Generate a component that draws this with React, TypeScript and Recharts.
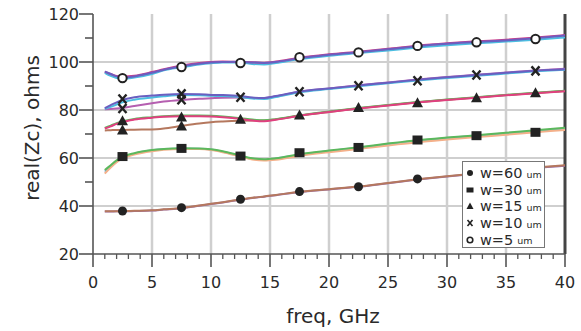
import React from 'react';
import { ComposedChart, Line, Scatter, XAxis, YAxis, ReferenceLine, Legend } from 'recharts';

// frequency points (GHz) for simulated curves
const freq = [1, 1.5, 2, 2.5, 3.5, 5, 6, 7.5, 9, 10, 11, 12.5, 13.5, 14.5, 15.5, 17.5, 20, 22.5, 25, 27.5, 30, 32.5, 35, 37.5, 40];

// w = 5 um curves
const z5a = [96, 95, 94, 93.6, 94, 95.5, 96.8, 98.2, 99.3, 99.8, 100, 100.1, 99.8, 99.6, 100, 101.6, 103, 104.1, 105.3, 106.6, 107.6, 108.3, 109, 109.9, 111];
const z5b = [95.5, 94.2, 93.3, 93, 93.5, 95, 96.5, 97.8, 99, 99.5, 99.8, 99.8, 99.2, 99, 99.6, 101.2, 102.6, 103.7, 104.8, 106, 107, 107.8, 108.5, 109.3, 110.2];
const z5c = [96, 95, 94.2, 94, 94.3, 95.8, 97, 98.5, 99.6, 100, 100.2, 100, 99.9, 99.7, 100.2, 101.8, 103.2, 104.3, 105.5, 106.8, 107.8, 108.6, 109.3, 110.2, 111.2];
// w = 10 um curves
const z10a = [80.8, 82, 83.2, 84.2, 85.3, 86, 86.4, 86.7, 86.6, 86.3, 86.2, 85.8, 85.2, 85, 85.8, 87.7, 89, 90.2, 91.4, 92.6, 93.6, 94.6, 95.5, 96.4, 97];
const z10b = [80.5, 81.3, 82.3, 83.2, 84.3, 85.2, 85.7, 86.2, 86.1, 85.9, 85.8, 85.4, 84.8, 84.6, 85.4, 87.4, 88.7, 89.9, 91.1, 92.3, 93.3, 94.3, 95.2, 96.1, 96.8];
const z10c = [80.3, 80.4, 80.6, 80.9, 81.7, 82.8, 83.5, 84.2, 84.7, 84.9, 85.1, 85.2, 85, 84.9, 85.7, 87.6, 89, 90.3, 91.5, 92.7, 93.7, 94.7, 95.6, 96.5, 97.2];
// w = 15 um curves
const z15a = [72.5, 73.5, 74.5, 75.3, 76.3, 77, 77.4, 77.7, 77.7, 77.6, 77.3, 76.6, 76, 75.7, 76.2, 77.8, 79.4, 80.8, 82.1, 83.3, 84.4, 85.3, 86.3, 87.2, 88];
const z15b = [72.3, 73.2, 74.2, 75, 76, 76.8, 77.2, 77.4, 77.4, 77.3, 77, 76.3, 75.6, 75.3, 75.9, 77.6, 79.2, 80.6, 81.9, 83.1, 84.2, 85.1, 86.1, 87, 87.8];
const z15c = [71.5, 71.6, 71.7, 71.7, 71.8, 71.9, 72.3, 73.4, 74.4, 74.9, 75.2, 75.5, 75.6, 75.6, 76.1, 77.6, 79.2, 80.7, 82, 83.2, 84.3, 85.2, 86.2, 87.1, 87.9];
// w = 30 um curves
const z30a = [55, 57, 59, 60.5, 62, 63.3, 63.8, 64.1, 64, 63.6, 62.8, 61, 59.9, 59.5, 59.9, 61.6, 63.1, 64.5, 66, 67.4, 68.5, 69.5, 70.5, 71.6, 72.6];
const z30b = [53.5, 56, 58.2, 59.8, 61.4, 62.8, 63.4, 63.8, 63.7, 63.3, 62.4, 60.6, 59.4, 59, 59.3, 60.9, 62.4, 63.8, 65.2, 66.6, 67.7, 68.7, 69.7, 70.7, 71.7];
const z30c = [54.3, 56.5, 58.6, 60.2, 61.8, 63.2, 63.7, 64, 63.9, 63.5, 62.6, 60.8, 59.7, 59.3, 59.8, 61.4, 62.9, 64.3, 65.8, 67.2, 68.3, 69.3, 70.3, 71.3, 72.3];
// w = 60 um curves
const z60a = [37.8, 37.8, 37.8, 37.9, 38, 38.2, 38.6, 39.2, 40.2, 40.9, 41.6, 42.7, 43.4, 44, 44.6, 45.9, 47, 48.1, 49.6, 51.1, 52.4, 53.6, 54.8, 56, 57];
const z60b = [37.7, 37.7, 37.8, 37.8, 37.9, 38.1, 38.5, 39.1, 40.1, 40.8, 41.5, 42.6, 43.3, 43.9, 44.5, 45.8, 46.9, 48, 49.5, 51, 52.3, 53.5, 54.7, 55.9, 56.8];

// measured markers
const markerFreq = [2.5, 7.5, 12.5, 17.5, 22.5, 27.5, 32.5, 37.5];
const markerFreqEarly = [2.5, 7.5];
const m60 = [37.9, 39.3, 42.8, 46, 48, 51.3, 53.8, 56];
const m30 = [60.6, 64, 60.8, 62.2, 64.4, 67.5, 69.3, 70.7];
const m15 = [75.5, 77.1, 76.1, 77.9, 81, 83, 85.1, 87.2];
const m15early = [71.7, 73.3];
const m10 = [84.6, 86.7, 85.3, 87.6, 90.1, 92.2, 94.6, 96.3];
const m10early = [80.6, 84.3];
const m5 = [93.3, 97.9, 99.6, 102, 104, 106.7, 108.2, 109.6];

const xTicks = Array.from({ length: 41 }, (_, i) => i);
const yTicks = [20, 30, 40, 50, 60, 70, 80, 90, 100, 110, 120];
const xGrid = [5, 10, 15, 20, 25, 30, 35];
const yGrid = [40, 60, 80, 100];

const legendItems = [
  { w: '60', shape: 'circle' },
  { w: '30', shape: 'square' },
  { w: '15', shape: 'triangle' },
  { w: '10', shape: 'x' },
  { w: '5', shape: 'open' },
];

const curveSeries = [
  { key: 'z60b', vals: z60b, color: '#9a6fb0' },
  { key: 'z60a', vals: z60a, color: '#b5785e' },
  { key: 'z30c', vals: z30c, color: '#8fb8e0' },
  { key: 'z30b', vals: z30b, color: '#f4b08a' },
  { key: 'z30a', vals: z30a, color: '#5cb85c' },
  { key: 'z15c', vals: z15c, color: '#b5785e' },
  { key: 'z15a', vals: z15a, color: '#5cb85c' },
  { key: 'z15b', vals: z15b, color: '#e0407f' },
  { key: 'z10c', vals: z10c, color: '#b55fb0' },
  { key: 'z10b', vals: z10b, color: '#4bbde0' },
  { key: 'z10a', vals: z10a, color: '#6a5fc0' },
  { key: 'z5b', vals: z5b, color: '#4bbde0' },
  { key: 'z5c', vals: z5c, color: '#cc3d8a' },
  { key: 'z5a', vals: z5a, color: '#6a5fc0' },
];

const data = freq.map((f, i) => {
  const row: Record<string, number> = { freq: f };
  curveSeries.forEach((s) => { row[s.key] = s.vals[i]; });
  return row;
});

const toPts = (fs: number[], vs: number[]) => fs.map((f, i) => ({ freq: f, z: vs[i] }));

const INK = '#222';

const MarkCircle = (p: any) => <circle cx={p.cx} cy={p.cy} r={4.5} fill={INK} />;
const MarkSquare = (p: any) => <rect x={p.cx - 5} y={p.cy - 4.5} width={10} height={9} fill={INK} />;
const MarkTri = (p: any) => (
  <polygon points={`${p.cx},${p.cy - 5.5} ${p.cx - 5.5},${p.cy + 4.5} ${p.cx + 5.5},${p.cy + 4.5}`} fill={INK} />
);
const MarkX = (p: any) => (
  <g stroke={INK} strokeWidth={2.4}>
    <line x1={p.cx - 4} y1={p.cy - 4.5} x2={p.cx + 4} y2={p.cy + 4.5} />
    <line x1={p.cx + 4} y1={p.cy - 4.5} x2={p.cx - 4} y2={p.cy + 4.5} />
  </g>
);
const MarkOpen = (p: any) => <circle cx={p.cx} cy={p.cy} r={4.2} fill="#fff" stroke={INK} strokeWidth={2} />;

const FONT = '"DejaVu Sans", sans-serif';
const TXT = '#2a2a2a';

const XTick = (props: any) => {
  const { x, y, payload } = props;
  const v = payload.value;
  const major = v % 5 === 0;
  return (
    <g>
      <line x1={x} x2={x} y1={y} y2={y + (major ? 13 : 5)} stroke="#555" strokeWidth={major ? 1.6 : 1.3} />
      {major && (
        <text x={x} y={y + 34} textAnchor="middle" fontSize={16} fontFamily={FONT} fill={TXT}>
          {v}
        </text>
      )}
    </g>
  );
};

const YTick = (props: any) => {
  const { x, y, payload } = props;
  const v = payload.value;
  const major = v % 20 === 0;
  if (!major && v === 30) return <g />;
  return (
    <g>
      <line x1={x - (major ? 14 : 8)} x2={x} y1={y} y2={y} stroke="#555" strokeWidth={1.6} />
      {major && (
        <text x={x - 14} y={y + 6} textAnchor="end" fontSize={16} fontFamily={FONT} fill={TXT}>
          {v}
        </text>
      )}
    </g>
  );
};

const LegendMark = ({ shape }: { shape: string }) => {
  const c = 5;
  return (
    <svg width={10} height={10} style={{ display: 'block' }}>
      {shape === 'circle' && <circle cx={c} cy={c} r={3} fill={INK} />}
      {shape === 'square' && <rect x={1.5} y={2.5} width={7} height={5} fill={INK} />}
      {shape === 'triangle' && <polygon points="5,1.5 1.5,8 8.5,8" fill={INK} />}
      {shape === 'x' && (
        <g stroke={INK} strokeWidth={1.6}>
          <line x1={2.5} y1={2} x2={7.5} y2={8} />
          <line x1={7.5} y1={2} x2={2.5} y2={8} />
        </g>
      )}
      {shape === 'open' && <circle cx={c} cy={c} r={2.8} fill="#fff" stroke={INK} strokeWidth={1.6} />}
    </svg>
  );
};

const LegendBox = () => (
  <div
    style={{
      width: 83,
      height: 87,
      boxSizing: 'border-box',
      border: '1px solid #777',
      background: '#fff',
      paddingTop: 3,
      fontFamily: FONT,
      color: TXT,
    }}
  >
    {legendItems.map((it) => (
      <div key={it.w} style={{ display: 'flex', alignItems: 'center', height: 16.6, paddingLeft: 2 }}>
        <LegendMark shape={it.shape} />
        <span style={{ fontSize: 14.5, marginLeft: 5, lineHeight: '16px' }}>w={it.w}</span>
        <span style={{ fontSize: 9.5, marginLeft: 4, marginTop: 3, lineHeight: '10px' }}>um</span>
      </div>
    ))}
  </div>
);

export default function App() {
  return (
    <div style={{ position: 'absolute', left: 0, top: 0, width: 581, height: 331, background: '#fff' }}>
      <ComposedChart width={581} height={331} data={data} margin={{ top: 14, right: 16, left: 0, bottom: 0 }}>
        {xGrid.map((g) => (
          <ReferenceLine key={'vx' + g} x={g} stroke="#cfcfcf" strokeWidth={2.5} />
        ))}
        {yGrid.map((g) => (
          <ReferenceLine key={'hy' + g} y={g} stroke="#cfcfcf" strokeWidth={2} />
        ))}
        <ReferenceLine x={40} stroke="#444" strokeWidth={3} />
        <XAxis
          type="number"
          dataKey="freq"
          domain={[0, 40]}
          ticks={xTicks}
          interval={0}
          tickSize={0}
          tickMargin={0}
          tickLine={false}
          tick={<XTick />}
          axisLine={{ stroke: '#555', strokeWidth: 1.6 }}
          height={77}
          allowDataOverflow
        />
        <YAxis
          type="number"
          domain={[20, 120]}
          ticks={yTicks}
          interval={0}
          tickSize={0}
          tickMargin={0}
          tickLine={false}
          tick={<YTick />}
          axisLine={{ stroke: '#555', strokeWidth: 1.6 }}
          width={93}
          allowDataOverflow
        />
        {curveSeries.map((s) => (
          <Line
            key={s.key}
            type="monotone"
            dataKey={s.key}
            stroke={s.color}
            strokeWidth={2}
            dot={false}
            activeDot={false}
            isAnimationActive={false}
          />
        ))}
        <Scatter data={toPts(markerFreq, m60)} dataKey="z" shape={MarkCircle} isAnimationActive={false} />
        <Scatter data={toPts(markerFreq, m30)} dataKey="z" shape={MarkSquare} isAnimationActive={false} />
        <Scatter data={toPts(markerFreq, m15)} dataKey="z" shape={MarkTri} isAnimationActive={false} />
        <Scatter data={toPts(markerFreqEarly, m15early)} dataKey="z" shape={MarkTri} isAnimationActive={false} />
        <Scatter data={toPts(markerFreq, m10)} dataKey="z" shape={MarkX} isAnimationActive={false} />
        <Scatter data={toPts(markerFreqEarly, m10early)} dataKey="z" shape={MarkX} isAnimationActive={false} />
        <Scatter data={toPts(markerFreq, m5)} dataKey="z" shape={MarkOpen} isAnimationActive={false} />
        <Legend
          layout="vertical"
          align="center"
          verticalAlign="middle"
          content={<LegendBox />}
          wrapperStyle={{ left: 462, top: 161, width: 83, height: 87 }}
        />
        <text x={32} y={128} transform="rotate(-90 32 128)" textAnchor="middle" dominantBaseline="central" fontSize={20} fontFamily={FONT} fill={TXT}>
          real(Zc), ohms
        </text>
        <text x={333} y={316} textAnchor="middle" dominantBaseline="central" fontSize={20} fontFamily={FONT} fill={TXT}>
          freq, GHz
        </text>
      </ComposedChart>
    </div>
  );
}
